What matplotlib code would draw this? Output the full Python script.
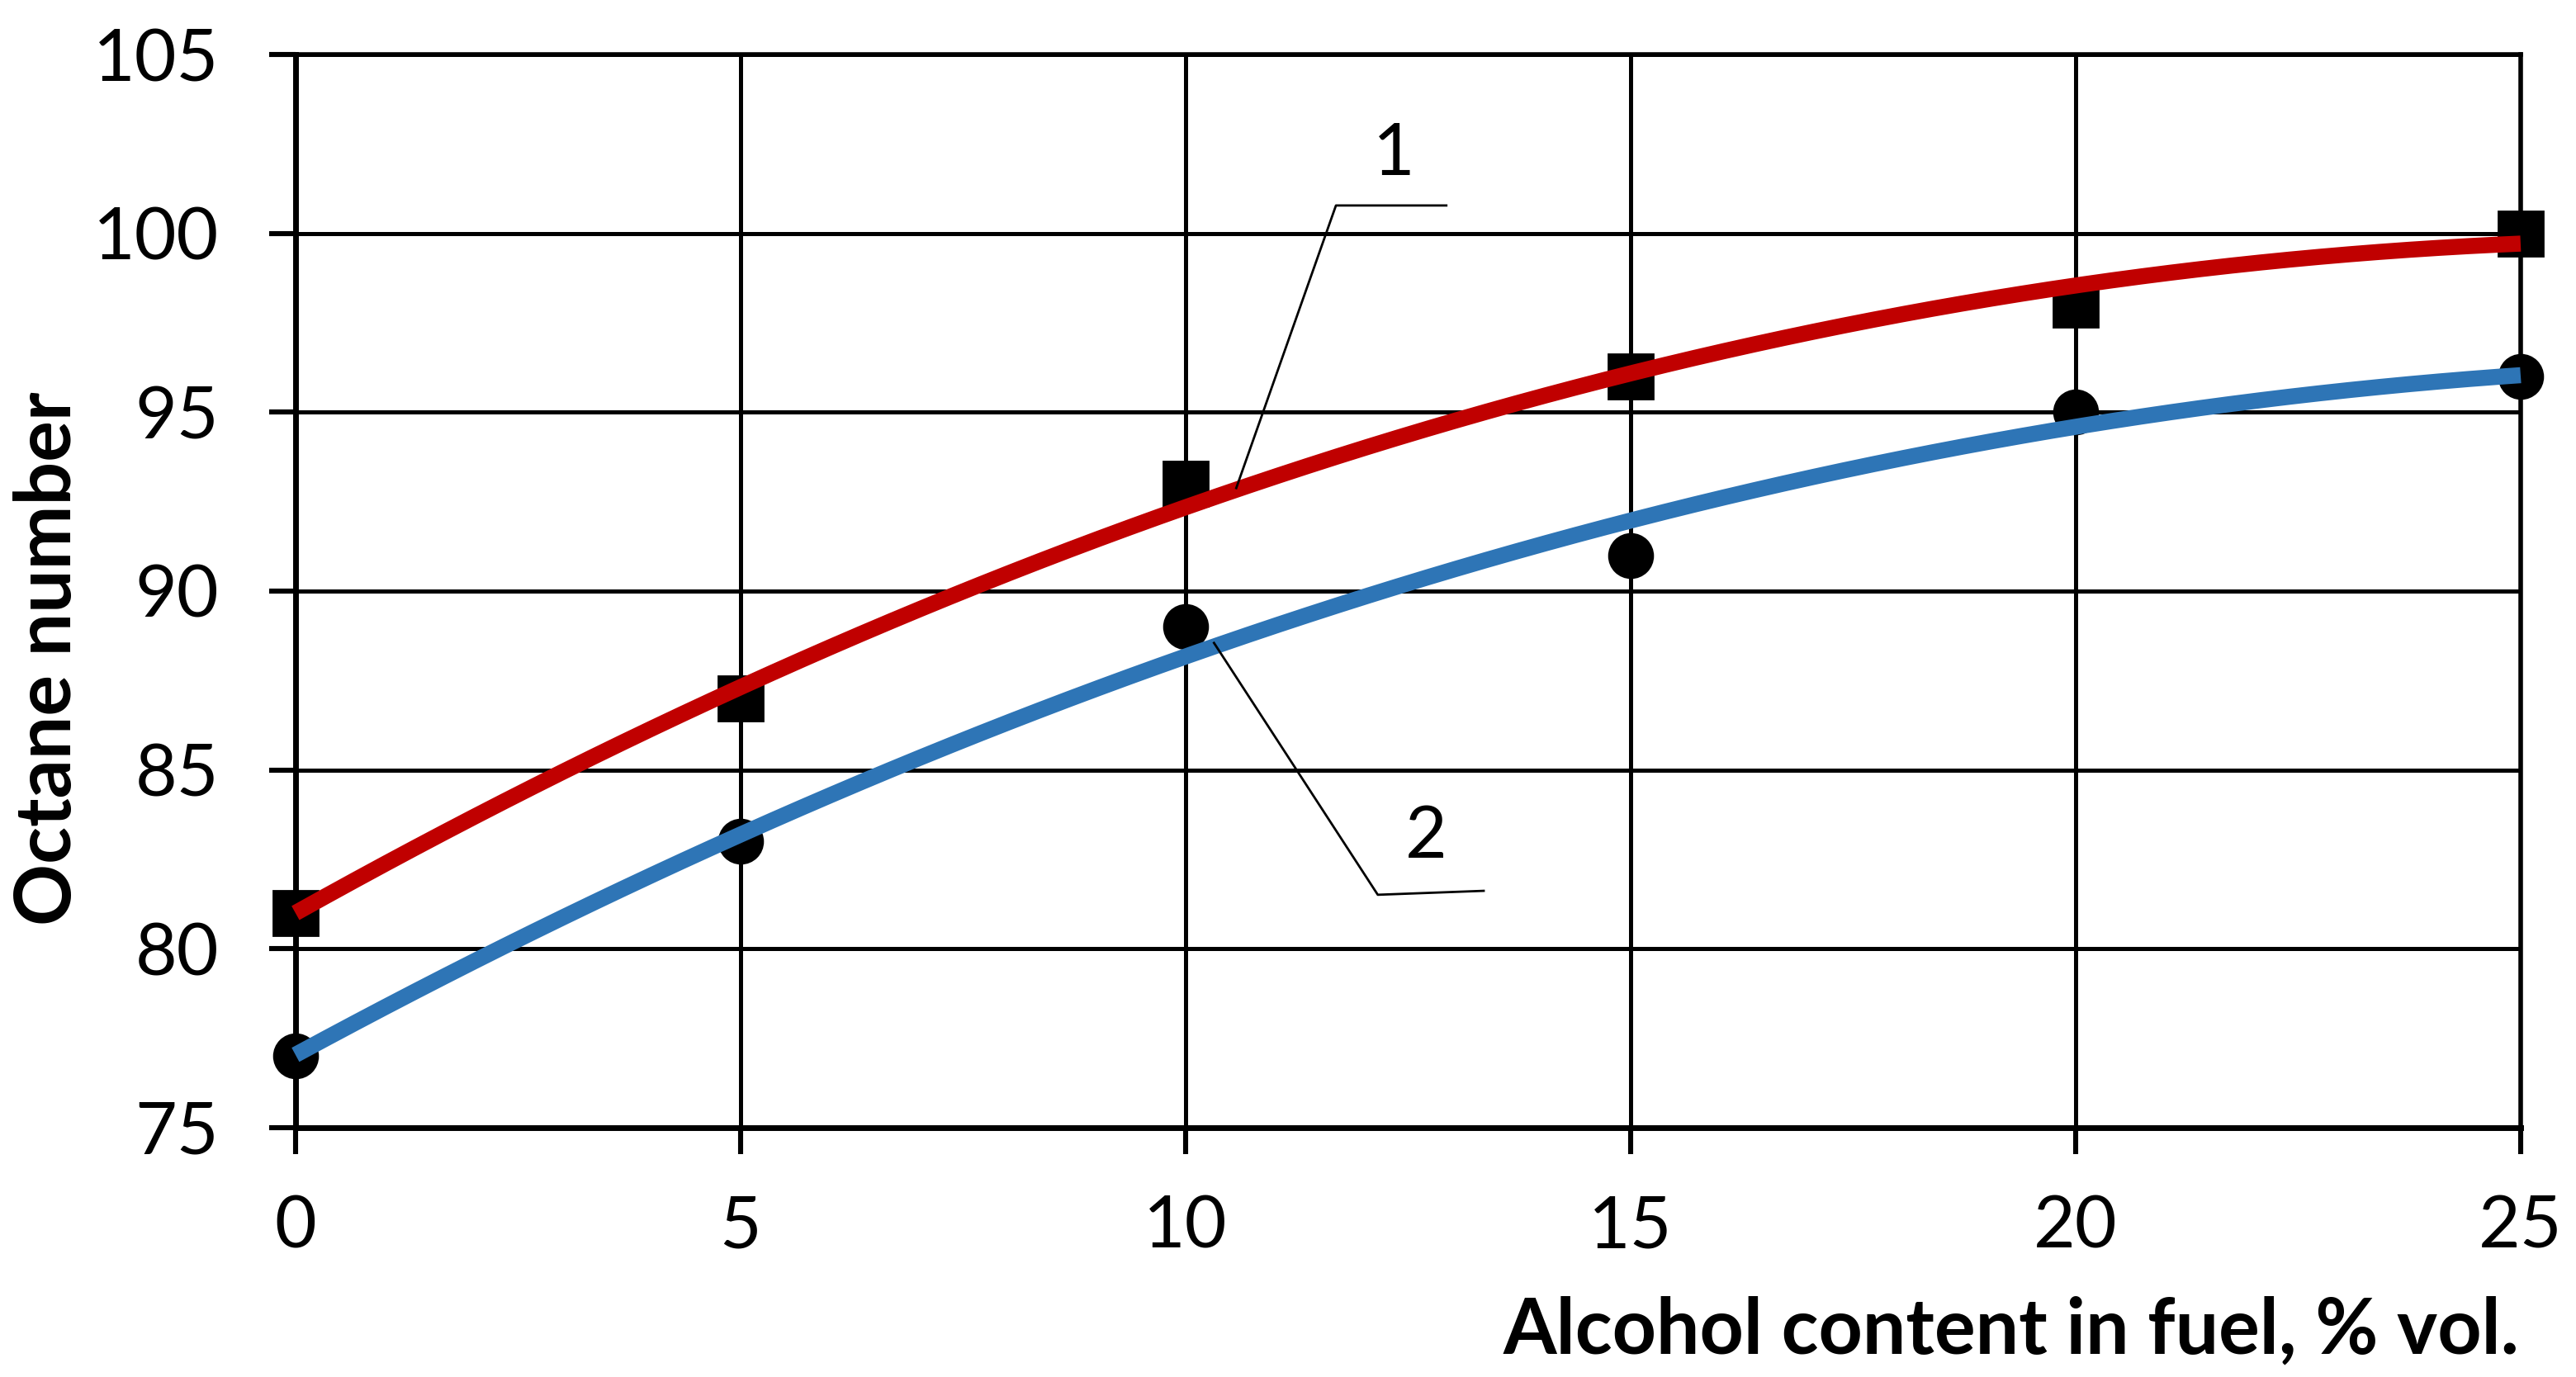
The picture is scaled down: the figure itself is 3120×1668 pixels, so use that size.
import numpy as np
import matplotlib
matplotlib.use("Agg")
import matplotlib.pyplot as plt

plt.rcParams["font.family"] = ["Lato", "DejaVu Sans"]

# data
alcohol_pct = [0, 5, 10, 15, 20, 25]
octane_1 = [81, 87, 93, 96, 98, 100]   # squares, red trend
octane_2 = [77, 83, 89, 91, 95, 96]    # circles, blue trend
x_ticks = [0, 5, 10, 15, 20, 25]
y_ticks = [75, 80, 85, 90, 95, 100, 105]

RED = "#C00000"
BLUE = "#2E75B6"

fig = plt.figure(figsize=(15.6, 8.34), dpi=200)
ax = fig.add_axes([0.1147, 0.1811, 0.8638, 0.7793])

ax.set_xlim(0, 25)
ax.set_ylim(75, 105)
ax.set_xticks(x_ticks)
ax.set_yticks(y_ticks)
ax.grid(True, color="black", linewidth=1.8)
ax.set_axisbelow(True)
for side, spine in ax.spines.items():
    spine.set_color("black")
    spine.set_linewidth(2.5 if side in ("left", "bottom") else 2.0)

ax.tick_params(axis="both", direction="out", length=11.5, width=2.2,
               labelsize=31.5, colors="black")
ax.tick_params(axis="y", pad=22)
ax.tick_params(axis="x", pad=18)

# markers
ax.plot(alcohol_pct, octane_1, linestyle="none", marker="s", markersize=19.5,
        color="black", clip_on=False, zorder=3)
ax.plot(alcohol_pct, octane_2, linestyle="none", marker="o", markersize=19,
        color="black", clip_on=False, zorder=3)

# polynomial (2nd order) trend lines, as in the original spreadsheet chart
xs = np.linspace(min(alcohol_pct), max(alcohol_pct), 300)
for ys, color in ((octane_1, RED), (octane_2, BLUE)):
    coef = np.polyfit(alcohol_pct, ys, 2)
    ax.plot(xs, np.polyval(coef, xs), color=color, linewidth=7.0,
            solid_capstyle="butt", clip_on=False, zorder=4)

# curve labels with leader lines
ax.plot([10.57, 11.69, 12.93], [92.88, 100.78, 100.78], color="black",
        linewidth=1.0, zorder=5, clip_on=False)
ax.text(12.34, 102.2, "1", fontsize=31.5, ha="center", va="center")

ax.plot([10.32, 12.16, 13.35], [88.55, 81.51, 81.62], color="black",
        linewidth=1.0, zorder=5, clip_on=False)
ax.text(12.7, 83.1, "2", fontsize=31.5, ha="center", va="center")

fig.text(0.019, 0.5216, "Octane number", rotation=90, fontsize=33.5,
         fontweight="bold", ha="center", va="center")
fig.text(0.978, 0.0168, "Alcohol content in fuel, % vol.", fontsize=33.5,
         fontweight="bold", ha="right", va="baseline")

fig.savefig("out.png", dpi=200)
